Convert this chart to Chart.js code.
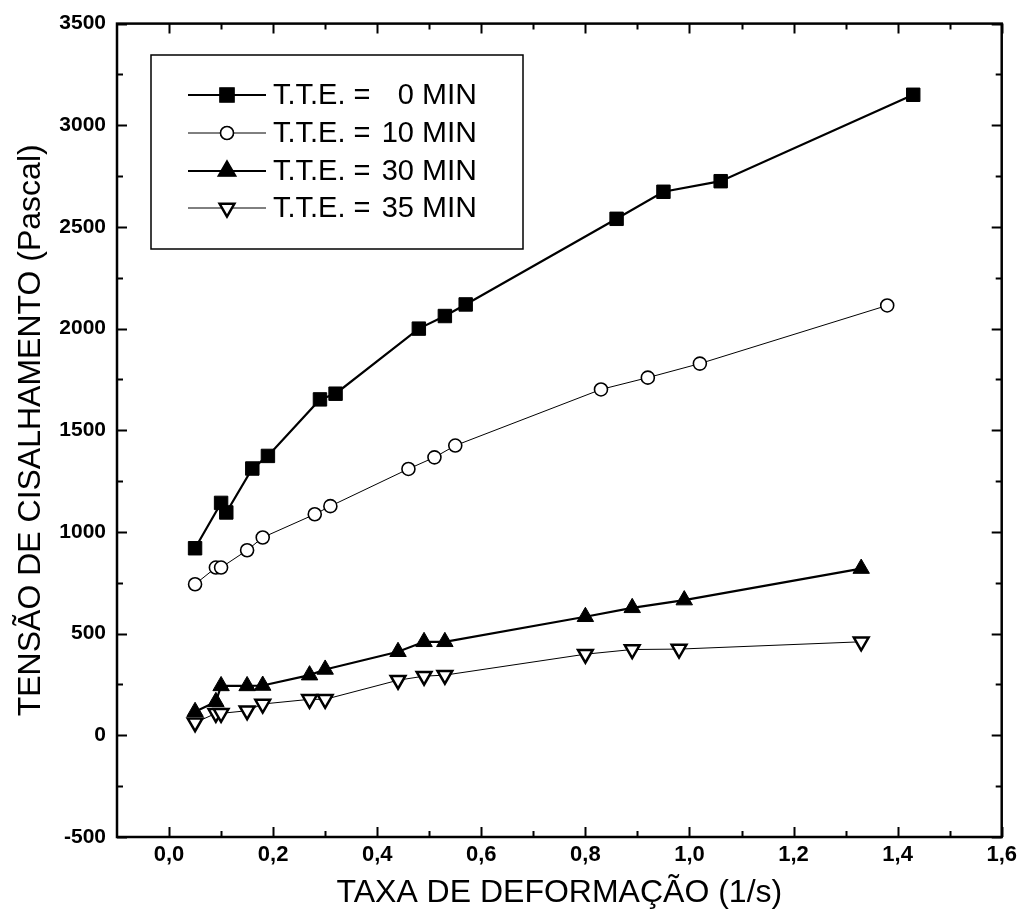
<!DOCTYPE html>
<html><head><meta charset="utf-8">
<script src="https://cdn.jsdelivr.net/npm/chart.js@4/dist/chart.umd.min.js"></script>
<style>html,body{margin:0;padding:0;background:#fff}#wrap{width:1022px;height:918px}</style>
</head><body><div id="wrap"><canvas id="c" width="1022" height="918"></canvas></div>
<script>
// ---- data ----
const xTicks = [0, 0.2, 0.4, 0.6, 0.8, 1.0, 1.2, 1.4, 1.6];
const yTicks = [-500, 0, 500, 1000, 1500, 2000, 2500, 3000, 3500];
const tteMinutes = [0, 10, 30, 35];

const x0 = [0.05, 0.10, 0.11, 0.16, 0.19, 0.29, 0.32, 0.48, 0.53, 0.57, 0.86, 0.95, 1.06, 1.43];
const y0 = [920, 1143, 1096, 1312, 1374, 1652, 1680, 2000, 2062, 2119, 2540, 2673, 2725, 3150];

const x10 = [0.05, 0.09, 0.10, 0.15, 0.18, 0.28, 0.31, 0.46, 0.51, 0.55, 0.83, 0.92, 1.02, 1.38];
const y10 = [743, 825, 825, 910, 973, 1087, 1127, 1310, 1367, 1425, 1701, 1759, 1828, 2114];

const x30 = [0.05, 0.09, 0.10, 0.15, 0.18, 0.27, 0.30, 0.44, 0.49, 0.53, 0.80, 0.89, 0.99, 1.33];
const y30 = [116, 165, 243, 243, 245, 296, 324, 411, 460, 460, 583, 627, 665, 820];

const x35 = [0.05, 0.09, 0.10, 0.15, 0.18, 0.27, 0.30, 0.44, 0.49, 0.53, 0.80, 0.89, 0.98, 1.33];
const y35 = [62, 108, 108, 121, 154, 177, 177, 271, 291, 296, 399, 422, 424, 460];

const pts = (xs, ys) => xs.map((x, i) => ({x: x, y: ys[i]}));
const FONT = '"Liberation Sans", Arial, Helvetica, sans-serif';

const framePlugin = {
  id: 'frame',
  afterDatasetsDraw(chart) {
    const {ctx, chartArea: a, scales: {x, y}} = chart;
    ctx.save();
    ctx.strokeStyle = '#000';
    ctx.lineWidth = 2.5;
    ctx.strokeRect(a.left, a.top, a.right - a.left, a.bottom - a.top);
    ctx.lineWidth = 2;
    const maj = 10, mino = 6;
    const xMin = [];
    for (let i = 0; i < xTicks.length - 1; i++) xMin.push((xTicks[i] + xTicks[i + 1]) / 2);
    const yMin = [];
    for (let i = 0; i < yTicks.length - 1; i++) yMin.push((yTicks[i] + yTicks[i + 1]) / 2);
    ctx.beginPath();
    const xt = (v, len) => {
      const px = Math.round(x.getPixelForValue(v)) + 0.5;
      ctx.moveTo(px, a.bottom); ctx.lineTo(px, a.bottom - len);
      ctx.moveTo(px, a.top); ctx.lineTo(px, a.top + len);
    };
    const yt = (v, len) => {
      const py = Math.round(y.getPixelForValue(v)) + 0.5;
      ctx.moveTo(a.left, py); ctx.lineTo(a.left + len, py);
      ctx.moveTo(a.right, py); ctx.lineTo(a.right - len, py);
    };
    xTicks.forEach(v => xt(v, maj));
    xMin.forEach(v => xt(v, mino));
    yTicks.forEach(v => yt(v, maj));
    yMin.forEach(v => yt(v, mino));
    ctx.stroke();
    ctx.restore();
  }
};

const legendPlugin = {
  id: 'boxLegend',
  afterDraw(chart) {
    const ctx = chart.ctx;
    ctx.save();
    ctx.strokeStyle = '#000';
    ctx.lineWidth = 1.5;
    ctx.strokeRect(151, 55, 372, 194);
    const rows = [95, 133, 171, 208];
    chart.data.datasets.forEach((ds, i) => {
      const yy = rows[i];
      ctx.strokeStyle = '#000';
      ctx.lineWidth = ds.borderWidth;
      ctx.beginPath(); ctx.moveTo(188, yy); ctx.lineTo(266, yy); ctx.stroke();
      Chart.helpers.drawPoint(ctx, {
        pointStyle: ds.pointStyle, rotation: ds.pointRotation || 0,
        radius: ds.pointRadius, borderWidth: ds.pointBorderWidth
      }, 227, yy);
      ctx.fillStyle = ds.pointBackgroundColor;
      ctx.strokeStyle = ds.pointBorderColor;
      ctx.lineWidth = ds.pointBorderWidth;
      ctx.fill(); ctx.stroke();
      ctx.fillStyle = '#000';
      ctx.font = '29px ' + FONT;
      ctx.textBaseline = 'middle';
      ctx.textAlign = 'left';
      ctx.fillText('T.T.E. =', 273, yy + 1);
      ctx.textAlign = 'right';
      ctx.fillText(String(tteMinutes[i]), 414, yy + 1);
      ctx.textAlign = 'left';
      ctx.font = '30px ' + FONT;
      ctx.fillText('MIN', 422, yy + 1);
    });
    ctx.restore();
  }
};

new Chart(document.getElementById('c'), {
  type: 'scatter',
  data: {
    datasets: [
      { label: 'T.T.E. = 0 MIN', data: pts(x0, y0), showLine: true,
        borderColor: '#000', borderWidth: 2.2, pointStyle: 'rect', pointRadius: 9.5,
        pointBackgroundColor: '#000', pointBorderColor: '#000', pointBorderWidth: 1 },
      { label: 'T.T.E. = 10 MIN', data: pts(x10, y10), showLine: true,
        borderColor: '#000', borderWidth: 1, pointStyle: 'circle', pointRadius: 6.5,
        pointBackgroundColor: '#fff', pointBorderColor: '#000', pointBorderWidth: 1.6 },
      { label: 'T.T.E. = 30 MIN', data: pts(x30, y30), showLine: true,
        borderColor: '#000', borderWidth: 2.2, pointStyle: 'triangle', pointRadius: 9.5,
        pointBackgroundColor: '#000', pointBorderColor: '#000', pointBorderWidth: 1 },
      { label: 'T.T.E. = 35 MIN', data: pts(x35, y35), showLine: true,
        borderColor: '#000', borderWidth: 1, pointStyle: 'triangle', pointRotation: 180, pointRadius: 8.5,
        pointBackgroundColor: '#fff', pointBorderColor: '#000', pointBorderWidth: 2.5 }
    ]
  },
  options: {
    responsive: false,
    devicePixelRatio: 1,
    animation: false,
    layout: { padding: { top: 23, right: 20, left: 0, bottom: 0 } },
    plugins: { legend: { display: false }, tooltip: { enabled: false } },
    scales: {
      x: {
        type: 'linear', min: -0.1, max: 1.6,
        afterBuildTicks: s => { s.ticks = xTicks.map(v => ({value: v})); },
        afterFit: s => { s.height = 81; },
        grid: { display: false, drawTicks: false },
        border: { display: false },
        ticks: { autoSkip: false, maxRotation: 0, padding: 5, color: '#000',
          font: { family: FONT, size: 22, weight: 'bold' },
          callback: v => v.toFixed(1).replace('.', ',') },
        title: { display: true, text: 'TAXA DE DEFORMAÇÃO (1/s)', color: '#000',
          font: { family: FONT, size: 32 }, padding: { top: 0, bottom: 6 } }
      },
      y: {
        type: 'linear', min: -500, max: 3500,
        afterBuildTicks: s => { s.ticks = yTicks.map(v => ({value: v})); },
        afterFit: s => { s.width = 117; },
        grid: { display: false, drawTicks: false },
        border: { display: false },
        ticks: { autoSkip: false, padding: 11, color: '#000',
          font: { family: FONT, size: 21, weight: 'bold' },
          callback: v => String(v) },
        title: { display: true, text: 'TENSÃO DE CISALHAMENTO (Pascal)', color: '#000',
          font: { family: FONT, size: 32 }, padding: { top: 12, bottom: 0 } }
      }
    }
  },
  plugins: [framePlugin, legendPlugin]
});
</script>
</body></html>
